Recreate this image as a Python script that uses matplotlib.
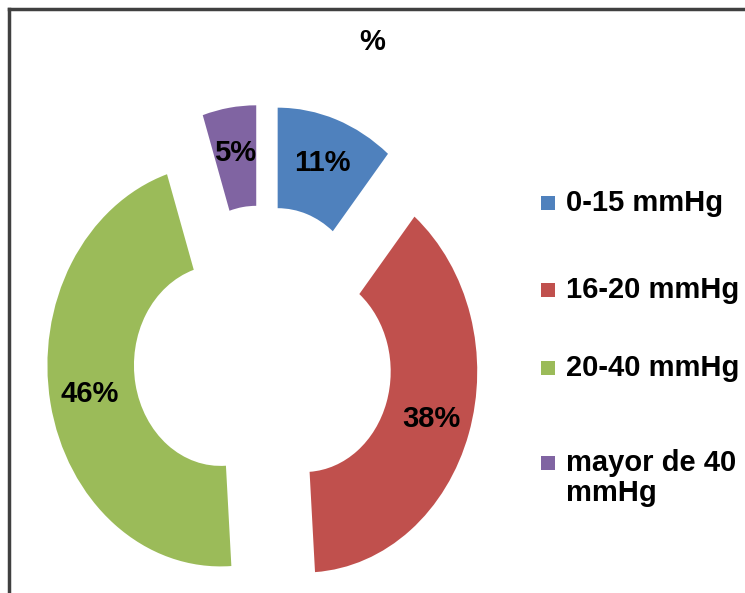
import matplotlib.pyplot as plt
from matplotlib.lines import Line2D
from matplotlib.patches import Rectangle

plt.rcParams['font.family'] = ['Liberation Sans', 'DejaVu Sans']

labels = ['0-15 mmHg', '16-20 mmHg', '20-40 mmHg', 'mayor de 40\nmmHg']
values = [11, 38, 46, 5]
colors = ['#4F81BD', '#C0504D', '#9BBB59', '#8064A2']

fig = plt.figure(figsize=(7.45, 5.93), dpi=100)

# axes placed so the donut is a bit taller than wide, like the source image
ax = fig.add_axes([38 / 745, 5.85 / 593, 450 / 745, 492.5 / 593])
wedges, texts, autotexts = ax.pie(
    values, colors=colors, startangle=90, counterclock=False,
    explode=[0.25] * len(values), autopct='%1.0f%%', pctdistance=0.77,
    wedgeprops=dict(width=0.5, linewidth=0),
    textprops=dict(fontsize=21, fontweight='bold', color='black'))
ax.set_aspect('auto')
ax.set_xlim(-1.3, 1.3)
ax.set_ylim(-1.15, 1.3)
ax.axis('off')

fig.text(372 / 745, 1 - 42 / 593, '%', ha='center', va='center',
         fontsize=21, fontweight='bold')

# legend drawn by hand: marker sits next to the first line of each label
legend_y = [203, 290, 368, 463]
for lab, col, y in zip(labels, colors, legend_y):
    fig.add_artist(Rectangle((541 / 745, 1 - (y + 7) / 593), 14 / 745, 14 / 593,
                             transform=fig.transFigure, color=col, lw=0))
    fig.text(566 / 745, 1 - (y - 14) / 593, lab, ha='left', va='top',
             fontsize=21, fontweight='bold', linespacing=1.1)

# frame of the original chart area (only top and left edges visible)
fig.add_artist(Line2D([9 / 745, 9 / 745], [0, 1 - 9 / 593], transform=fig.transFigure,
                      color='#404040', lw=2.5))
fig.add_artist(Line2D([9 / 745, 1], [1 - 9 / 593, 1 - 9 / 593], transform=fig.transFigure,
                      color='#404040', lw=2.5))

fig.savefig('out.png', dpi=100)
